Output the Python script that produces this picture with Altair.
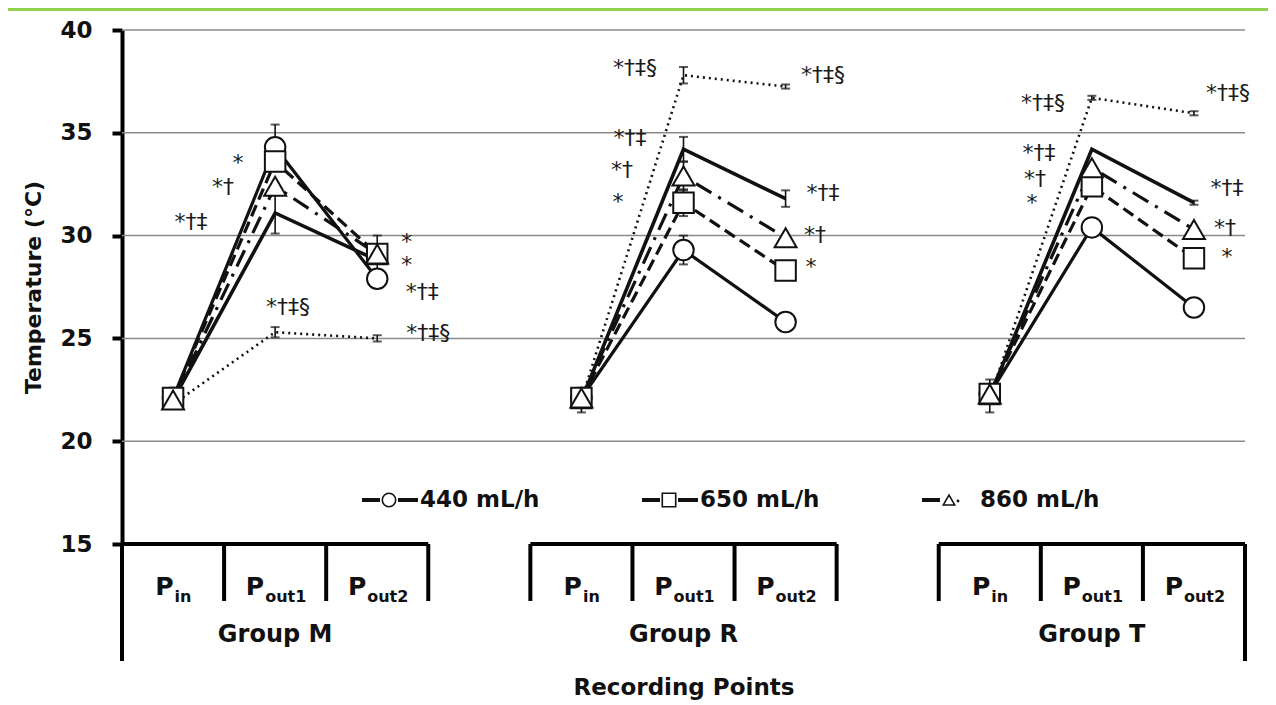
import altair as alt
import pandas as pd

# ---------------- data ----------------
groups = ["Group M", "Group R", "Group T"]
points = ["Pin", "Pout1", "Pout2"]
point_sub = ["in", "out1", "out2"]

series_names = ["440 mL/h", "650 mL/h", "860 mL/h", "solid (no marker)", "dotted (no marker)"]

# temperatures (°C) per group (M, R, T) and recording point (Pin, Pout1, Pout2)
t440 = [[22.1, 34.3, 27.9], [22.1, 29.3, 25.8], [22.3, 30.4, 26.5]]
t650 = [[22.1, 33.6, 29.1], [22.1, 31.6, 28.3], [22.3, 32.4, 28.9]]
t860 = [[22.0, 32.4, 29.1], [22.1, 32.9, 29.9], [22.3, 33.3, 30.3]]
tsolid = [[22.0, 31.1, 28.8], [22.0, 34.2, 31.8], [22.2, 34.2, 31.6]]
tdot = [[21.8, 25.3, 25.0], [22.0, 37.8, 37.25], [22.1, 36.7, 35.95]]

# error bars (0 = not drawn)
e440 = [[0.5, 1.1, 0.0], [0.0, 0.7, 0.0], [0.0, 0.0, 0.0]]
e650 = [[0.0, 0.0, 0.9], [0.0, 0.65, 0.0], [0.0, 0.0, 0.0]]
e860 = [[0.0, 0.0, 0.0], [0.0, 0.7, 0.0], [0.0, 0.0, 0.0]]
esolid = [[0.0, 1.0, 0.0], [0.6, 0.6, 0.4], [0.8, 0.0, 0.1]]
edot = [[0.0, 0.25, 0.15], [0.0, 0.4, 0.1], [0.0, 0.1, 0.1]]

grid_values = [20, 25, 30, 35, 40]
y_ticks = [15, 20, 25, 30, 35, 40]

# significance annotations: text, x (category slot units), y (°C)
ann_text = ["*", "*†", "*†‡", "*†‡§", "*", "*", "*†‡", "*†‡§",
            "*†‡§", "*†‡§", "*†‡", "*†", "*", "*†‡", "*†", "*",
            "*†‡§", "*†‡§", "*†‡", "*†", "*", "*†‡", "*†", "*"]
ann_x = [1.136, 0.989, 0.676, 1.626, 2.79, 2.79, 2.94, 3.0,
         5.025, 6.866, 4.976, 4.898, 4.858, 6.866, 6.788, 6.749,
         9.021, 10.834, 8.982, 8.943, 8.914, 10.824, 10.804, 10.824]
ann_y = [33.53, 32.36, 30.66, 26.53, 29.69, 28.57, 27.26, 25.26,
         38.15, 37.81, 34.75, 33.19, 31.63, 32.07, 30.03, 28.47,
         36.45, 36.94, 34.02, 32.75, 31.6, 32.32, 30.37, 28.96]

legend_names = ["440 mL/h", "650 mL/h", "860 mL/h"]

# ---------------- build tables ----------------
vals = [t440, t650, t860, tsolid, tdot]
errs = [e440, e650, e860, esolid, edot]
rows = []
for s, v, e in zip(series_names, vals, errs):
    for g in range(3):
        for p in range(3):
            rows.append(dict(series=s, group=groups[g], point=points[p],
                             slot=g * 4 + p + 0.5, temp=v[g][p], err=e[g][p],
                             lo=v[g][p] - e[g][p], hi=v[g][p] + e[g][p]))
df = pd.DataFrame(rows)

df_grid = pd.DataFrame({"y": grid_values, "x0": 0, "x1": 11})
df_ann = pd.DataFrame({"text": ann_text, "x": ann_x, "y": ann_y})

df_box = pd.DataFrame({"group": groups, "x0": [g * 4 for g in range(3)],
                       "x1": [g * 4 + 3 for g in range(3)], "y": 15})
bounds = []
for g in range(3):
    for k in range(4):
        xb = g * 4 + k
        bounds.append(dict(xb=xb, long=(xb == 0 or xb == 11), y=15))
df_bounds = pd.DataFrame(bounds)
df_cat = pd.DataFrame([dict(slot=g * 4 + p + 0.5, P="P", sub=point_sub[p], pidx=p)
                       for g in range(3) for p in range(3)])
df_glab = pd.DataFrame({"group": groups, "x": [g * 4 + 1.5 for g in range(3)]})
one = pd.DataFrame({"k": [0]})

# ---------------- scales / axis ----------------
xs = alt.Scale(domain=[0, 11], nice=False, zero=False)
ys = alt.Scale(domain=[15, 40], nice=False, zero=False)
FONT = "DejaVu Sans"
INK = "#111111"

yaxis = alt.Axis(
    values=y_ticks, grid=False, domainWidth=4, domainColor="black",
    tickWidth=4, tickSize=10, tickColor="black",
    labelFont=FONT, labelFontWeight="bold", labelFontSize=23,
    labelColor=INK, labelPadding=20,
    title="Temperature (°C)", titleFont=FONT, titleFontWeight="bold",
    titleFontSize=22, titleColor=INK, titleX=-89, titleY=257,
    titleAngle=270, titleBaseline="middle", titleAlign="center")


def X(f):
    return alt.X(f, type="quantitative", scale=xs, axis=None)


def Y(f):
    return alt.Y(f, type="quantitative", scale=ys, axis=yaxis, title="Temperature (°C)")


layers = []

# gridlines
layers.append(
    alt.Chart(df_grid).mark_rule(color="#8a8a8a", strokeWidth=1.5).encode(
        x=X("x0"), x2="x1", y=Y("y"))
)

styles = {
    "dotted (no marker)": dict(strokeDash=[2, 4], strokeWidth=2.6),
    "solid (no marker)": dict(strokeWidth=3.6),
    "860 mL/h": dict(strokeDash=[18, 8, 3, 8], strokeWidth=3.2),
    "650 mL/h": dict(strokeDash=[12, 6], strokeWidth=3.2),
    "440 mL/h": dict(strokeWidth=3.2),
}
for s, st in styles.items():
    layers.append(
        alt.Chart(df[df.series == s]).mark_line(color=INK, **st).encode(
            x=X("slot"), y=Y("temp"), detail="group:N", order="slot:Q")
    )

# error bars
dfe = df[df.err > 0]
layers.append(alt.Chart(dfe).mark_rule(color=INK, strokeWidth=1.6).encode(
    x=X("slot"), y=Y("lo"), y2="hi"))
layers.append(alt.Chart(dfe).mark_tick(color=INK, orient="horizontal", size=9, thickness=2).encode(
    x=X("slot"), y=Y("lo")))
layers.append(alt.Chart(dfe).mark_tick(color=INK, orient="horizontal", size=9, thickness=2).encode(
    x=X("slot"), y=Y("hi")))

# markers (circle under square under triangle)
for s, shp, size in [("440 mL/h", "circle", 420), ("650 mL/h", "square", 420), ("860 mL/h", "triangle-up", 480)]:
    layers.append(
        alt.Chart(df[df.series == s]).mark_point(shape=shp, size=size, filled=True, fill="white",
                                                 stroke=INK, strokeWidth=2, opacity=1).encode(
            x=X("slot"), y=Y("temp"))
    )

# annotations
layers.append(alt.Chart(df_ann).mark_text(font=FONT, fontSize=22, color="#1a1a1a",
                                          baseline="middle", align="center").encode(
    x=X("x"), y=Y("y"), text="text:N"))

# category table below the axis
layers.append(alt.Chart(df_box).mark_rule(color="black", strokeWidth=4).encode(
    x=X("x0"), x2="x1", y=Y("y")))
layers.append(alt.Chart(df_bounds[~df_bounds.long]).mark_rule(color="black", strokeWidth=4).encode(
    x=X("xb"), y=Y("y"), y2=alt.value(571)))
layers.append(alt.Chart(df_bounds[df_bounds.long]).mark_rule(color="black", strokeWidth=4).encode(
    x=X("xb"), y=Y("y"), y2=alt.value(631)))

sub_w = {"in": 17, "out1": 40, "out2": 40}
p_w = 18
for p in range(3):
    sub = point_sub[p]
    off = (p_w - sub_w[sub]) / 2
    d = df_cat[df_cat.pidx == p]
    layers.append(alt.Chart(d).mark_text(font=FONT, fontWeight="bold", fontSize=25, color=INK,
                                         align="right", baseline="alphabetic", dx=off).encode(
        x=X("slot"), y=alt.value(565), text="P:N"))
    layers.append(alt.Chart(d).mark_text(font=FONT, fontWeight="bold", fontSize=16, color=INK,
                                         align="left", baseline="alphabetic", dx=off + 1).encode(
        x=X("slot"), y=alt.value(572), text="sub:N"))

layers.append(alt.Chart(df_glab).mark_text(font=FONT, fontWeight="bold", fontSize=24, color=INK,
                                           baseline="middle").encode(
    x=X("x"), y=alt.value(605), text="group:N"))
layers.append(alt.Chart(one).mark_text(font=FONT, fontWeight="bold", fontSize=23, color=INK,
                                       baseline="middle", text="Recording Points").encode(
    x=alt.value(562), y=alt.value(658)))

# manual legend
legend_shapes = ["circle", "square", "triangle-up"]
for i, name in enumerate(legend_names):
    base = 240 + 280 * i
    layers.append(alt.Chart(one).mark_rule(color=INK, strokeWidth=4).encode(
        x=alt.value(base), x2=alt.value(base + 18), y=alt.value(470)))
    if i < 2:
        layers.append(alt.Chart(one).mark_rule(color=INK, strokeWidth=4).encode(
            x=alt.value(base + 36), x2=alt.value(base + 56), y=alt.value(470)))
    else:
        layers.append(alt.Chart(one).mark_point(shape="circle", size=8, filled=True, color=INK, opacity=1).encode(
            x=alt.value(base + 36), y=alt.value(471)))
    layers.append(alt.Chart(one).mark_point(shape=legend_shapes[i], size=180 if i < 2 else 130,
                                            filled=True, fill="white", stroke=INK, strokeWidth=1.6,
                                            opacity=1).encode(
        x=alt.value(base + 27), y=alt.value(470)))
    layers.append(alt.Chart(one).mark_text(font=FONT, fontWeight="bold", fontSize=23, color=INK,
                                           align="left", baseline="middle", text=name).encode(
        x=alt.value(base + 58), y=alt.value(470)))

# green band at top
layers.append(alt.Chart(one).mark_rect(color="#92D050").encode(
    x=alt.value(-114), x2=alt.value(1146), y=alt.value(-22), y2=alt.value(-19)))

chart = alt.layer(*layers).properties(
    width=1123, height=514,
    padding={"left": 114, "top": 22, "right": 23, "bottom": 160},
    autosize=alt.AutoSizeParams(type="none"),
).configure(background="white").configure_view(stroke=None)

chart.save("out.html", embed_options={"renderer": "svg", "actions": False})
